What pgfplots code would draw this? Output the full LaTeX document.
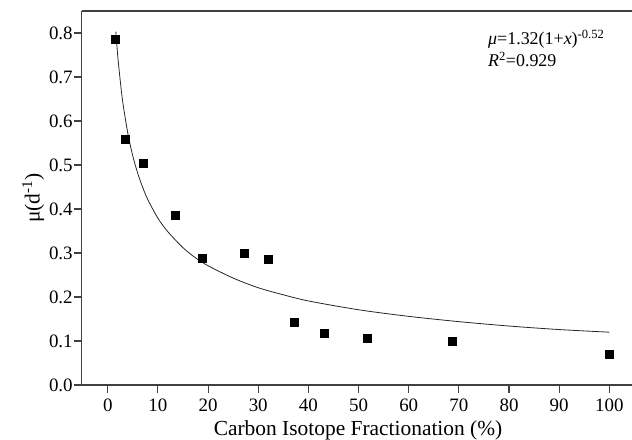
\documentclass[border=0pt]{standalone}
\usepackage{fontspec}
\setmainfont{Liberation Serif}
\usepackage{pgfplots}
\pgfplotsset{compat=1.18}

\begin{document}
\begin{tikzpicture}[x=1bp,y=1bp]
\useasboundingbox (0,0) rectangle (632,440);
\begin{axis}[
    at={(81.7bp,55bp)}, anchor=south west,
    scale only axis,
    width=552.7bp, height=374bp,
    xmin=-5.2, xmax=105, ymin=0, ymax=0.85,
    axis x line=box, axis y line=left,
    axis line style={-, line width=1.1pt, draw=black!75},
    xtick={0,10,...,100},
    ytick={0,0.1,...,0.8},
    xtick pos=bottom, ytick pos=left,
    tick align=outside,
    major tick length=8bp,
    tick style={line width=1.1pt, draw=black!75},
    /pgf/number format/assume math mode=true,
    yticklabel style={/pgf/number format/.cd, fixed, fixed zerofill, precision=1, /tikz/.cd, xshift=2.5bp},
    xticklabel style={yshift=-2.5bp},
    tick label style={font=\fontsize{19}{22}\selectfont},
    xlabel={Carbon Isotope Fractionation (\%)},
    ylabel={μ(d\textsuperscript{-1})},
    label style={font=\fontsize{21.5}{24}\selectfont},
    xlabel style={at={(axis description cs:0.5,0)}, anchor=base, yshift=-51bp},
    ylabel style={yshift=-2bp},
    clip=false,
]
% fitted curve mu = 1.32(1+x)^-0.52
\addplot[black!85, line width=0.8pt, smooth] coordinates {
(1.6,0.803)(2,0.746)(2.5,0.690)(3,0.642)(4,0.572)(5,0.520)(6,0.480)(7,0.448)
(8,0.421)(10,0.379)(12,0.348)(15,0.312)(17.5,0.289)(20,0.271)(25,0.243)
(30,0.221)(35,0.205)(40,0.191)(50,0.171)(60,0.156)(70,0.144)(80,0.134)
(90,0.126)(100,0.120)};
% measured points
\addplot[only marks, mark=square*, mark size=4bp, black] coordinates {
(1.4,0.787)(3.4,0.558)(7.0,0.505)(13.5,0.385)(18.9,0.289)(27.1,0.299)
(32.0,0.286)(37.2,0.143)(43.1,0.118)(51.7,0.107)(68.6,0.099)(100,0.071)};
\end{axis}
\node[anchor=base west, font=\fontsize{18}{21}\selectfont, inner sep=0pt] at (488,395)
  {\textit{μ}=1.32(1+\textit{x})\textsuperscript{-0.52}};
\node[anchor=base west, font=\fontsize{18}{21}\selectfont, inner sep=0pt] at (488,373)
  {\textit{R}\textsuperscript{2}=0.929};
\end{tikzpicture}
\end{document}
